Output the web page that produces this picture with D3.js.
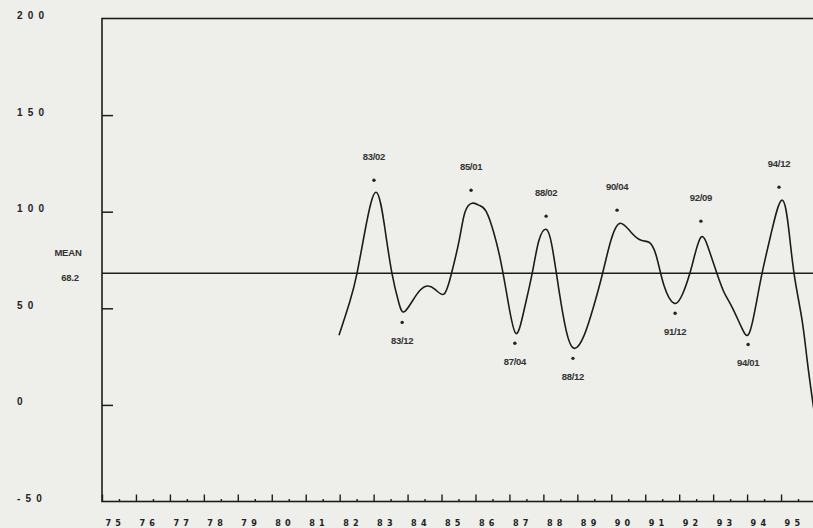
<!DOCTYPE html>
<html>
<head>
<meta charset="utf-8">
<script src="https://cdn.jsdelivr.net/npm/d3@7"></script>
<style>
  html, body { margin: 0; padding: 0; background: #eeeeeb; }
  svg { display: block; }
</style>
</head>
<body>
<svg id="chart" width="813" height="528"></svg>
<script>
// Smoothed index, sampled along the curve (decimal years)
const seriesYears = [
  1981.98, 1982.30, 1982.51, 1982.75, 1983.07, 1983.34, 1983.54, 1983.74, 1983.92,
  1984.25, 1984.54, 1984.81, 1985.07, 1985.28, 1985.52, 1985.69, 1985.90, 1986.10,
  1986.31, 1986.55, 1986.75, 1986.96, 1987.19, 1987.43, 1987.67, 1987.87, 1988.08,
  1988.25, 1988.46, 1988.67, 1988.90, 1989.20, 1989.49, 1989.73, 1989.99, 1990.26,
  1990.58, 1990.88, 1991.11, 1991.32, 1991.55, 1991.85, 1992.11, 1992.38, 1992.64,
  1992.88, 1993.11, 1993.32, 1993.56, 1993.85, 1994.06, 1994.26, 1994.44, 1994.71,
  1995.03, 1995.24, 1995.40, 1995.62, 1995.77, 1995.94, 1996.03
];
const seriesValues = [
  36.0, 53.5, 68.1, 90.4, 110.1, 90.4, 68.1, 53.0, 48.4,
  56.7, 61.4, 59.8, 57.3, 67.1, 85.2, 99.7, 104.4, 103.4,
  100.3, 88.5, 73.8, 53.5, 37.0, 49.0, 68.1, 85.2, 90.9,
  82.6, 59.3, 38.6, 29.3, 36.0, 51.6, 67.1, 85.2, 94.0,
  89.4, 85.2, 84.2, 77.5, 61.9, 52.6, 57.8, 72.3, 86.8,
  80.1, 68.1, 58.3, 50.5, 39.6, 37.0, 51.6, 68.1, 88.9,
  106.0, 88.9, 66.0, 43.8, 23.0, 0.8, -9.6
];

const meanValue = 68.2;

// Turning points marked on the curve
const extremaLabels = ["83/02", "83/12", "85/01", "87/04", "88/02", "88/12", "90/04", "91/12", "92/09", "94/01", "94/12"];
const extremaYears  = [1983.01, 1983.84, 1985.87, 1987.16, 1988.08, 1988.87, 1990.17, 1991.88, 1992.64, 1994.03, 1994.94];
const extremaValues = [116.3, 42.7, 111.1, 31.9, 97.7, 24.1, 100.8, 47.4, 95.1, 31.3, 112.7];
const extremaKinds  = ["peak", "trough", "peak", "trough", "peak", "trough", "peak", "trough", "peak", "trough", "peak"];

const yTickValues = [200, 150, 100, 50, 0, -50];
const yInnerTicks = [150, 100, 50, 0];
const xYearTicks = d3.range(1975, 1996);
const xHalfTicks = d3.range(1975.5, 1996, 1);
const xTickLabels = ["75","76","77","78","79","80","81","82","83","84","85","86","87","88","89","90","91","92","93","94","95"];

const svg = d3.select("#chart");
const ink = "#1c1c1c";

const x = d3.scaleLinear().domain([1975, 1996]).range([102, 815]);
const y = d3.scaleLinear().domain([-50, 200]).range([501.5, 18.5]);

const plotLeft = x.range()[0];
const plotTop = y.range()[1];
const plotBottom = y.range()[0];

// clip for everything inside the frame
svg.append("defs").append("clipPath").attr("id", "plot-clip")
  .append("rect")
  .attr("x", plotLeft).attr("y", plotTop)
  .attr("width", 900).attr("height", plotBottom - plotTop);

// Frame
svg.append("rect")
  .attr("x", plotLeft).attr("y", plotTop)
  .attr("width", 730).attr("height", plotBottom - plotTop)
  .attr("fill", "none").attr("stroke", ink).attr("stroke-width", 1.6);

// Y axis: inner ticks
const yTicksG = svg.append("g")
  .attr("transform", `translate(${plotLeft},0)`)
  .call(d3.axisRight(y).tickValues(yInnerTicks).tickSize(11).tickFormat(""));
yTicksG.select(".domain").remove();
yTicksG.selectAll(".tick line").attr("stroke", ink).attr("stroke-width", 1.5);

// Y axis: labels on the far left, left aligned
const yLabelsG = svg.append("g")
  .attr("transform", `translate(${plotLeft},0)`)
  .call(d3.axisLeft(y).tickValues(yTickValues).tickSize(0)
        .tickFormat(d => d < 0 ? "-" + Math.abs(d) : String(d)));
yLabelsG.select(".domain").remove();
yLabelsG.selectAll(".tick text")
  .attr("x", 17 - plotLeft)
  .attr("dy", "0.0em")
  .attr("y", 0)
  .attr("text-anchor", "start")
  .attr("font-family", "'Liberation Sans', Arial, sans-serif")
  .attr("font-size", 10)
  .attr("font-weight", "bold")
  .attr("letter-spacing", "5.2px")
  .attr("fill", "#222");

// X axis: year ticks with labels, half-year minor ticks
const xAxisG = svg.append("g")
  .attr("transform", `translate(0,${plotBottom})`)
  .call(d3.axisBottom(x).tickValues(xYearTicks).tickSize(-7)
        .tickFormat((d, i) => xTickLabels[i]));
xAxisG.select(".domain").remove();
xAxisG.selectAll(".tick line").attr("stroke", ink).attr("stroke-width", 1.4);
xAxisG.selectAll(".tick text")
  .attr("y", 24)
  .attr("dy", 0)
  .attr("dx", 3)
  .attr("text-anchor", "start")
  .attr("font-family", "'Liberation Sans Narrow', 'DejaVu Sans Condensed', sans-serif")
  .attr("font-size", 9)
  .attr("font-weight", "bold")
  .attr("letter-spacing", "4.2px")
  .attr("fill", "#222");

const xMinorG = svg.append("g")
  .attr("transform", `translate(0,${plotBottom})`)
  .call(d3.axisBottom(x).tickValues(xHalfTicks).tickSize(-2.5).tickFormat(""));
xMinorG.select(".domain").remove();
xMinorG.selectAll(".tick line").attr("stroke", ink).attr("stroke-width", 1.4);

// Mean line and its label
svg.append("line")
  .attr("x1", plotLeft).attr("x2", 813)
  .attr("y1", y(meanValue)).attr("y2", y(meanValue))
  .attr("stroke", ink).attr("stroke-width", 1.5);

const labelFont = "'Liberation Sans', Arial, sans-serif";
svg.append("text")
  .attr("x", 68).attr("y", y(meanValue) - 17)
  .attr("text-anchor", "middle")
  .attr("font-family", labelFont).attr("font-size", 9.5).attr("font-weight", "bold")
  .attr("fill", "#333").attr("letter-spacing", "-0.2px")
  .text("MEAN");
svg.append("text")
  .attr("x", 70).attr("y", y(meanValue) + 8)
  .attr("text-anchor", "middle")
  .attr("font-family", labelFont).attr("font-size", 9.5).attr("font-weight", "bold")
  .attr("fill", "#333").attr("letter-spacing", "-0.2px")
  .text(meanValue.toFixed(1));

// The curve
const series = seriesYears.map((t, i) => ({ t, v: seriesValues[i] }));
const line = d3.line()
  .x(d => x(d.t))
  .y(d => y(d.v))
  .curve(d3.curveNatural);

svg.append("path")
  .datum(series)
  .attr("clip-path", "url(#plot-clip)")
  .attr("d", line)
  .attr("fill", "none")
  .attr("stroke", ink)
  .attr("stroke-width", 1.6)
  .attr("stroke-linejoin", "round");

// Turning-point markers and date labels
const extrema = extremaLabels.map((label, i) => ({
  label, t: extremaYears[i], v: extremaValues[i], kind: extremaKinds[i]
}));

const marks = svg.append("g");
marks.selectAll("circle")
  .data(extrema)
  .join("circle")
  .attr("cx", d => x(d.t))
  .attr("cy", d => y(d.v))
  .attr("r", 1.7)
  .attr("fill", "#222");

marks.selectAll("text")
  .data(extrema)
  .join("text")
  .attr("x", d => x(d.t))
  .attr("y", d => d.kind === "peak" ? y(d.v) - 20 : y(d.v) + 22)
  .attr("text-anchor", "middle")
  .attr("font-family", labelFont)
  .attr("font-size", 9.5)
  .attr("font-weight", "bold")
  .attr("letter-spacing", "-0.3px")
  .attr("fill", "#333")
  .text(d => d.label);
</script>
</body>
</html>
